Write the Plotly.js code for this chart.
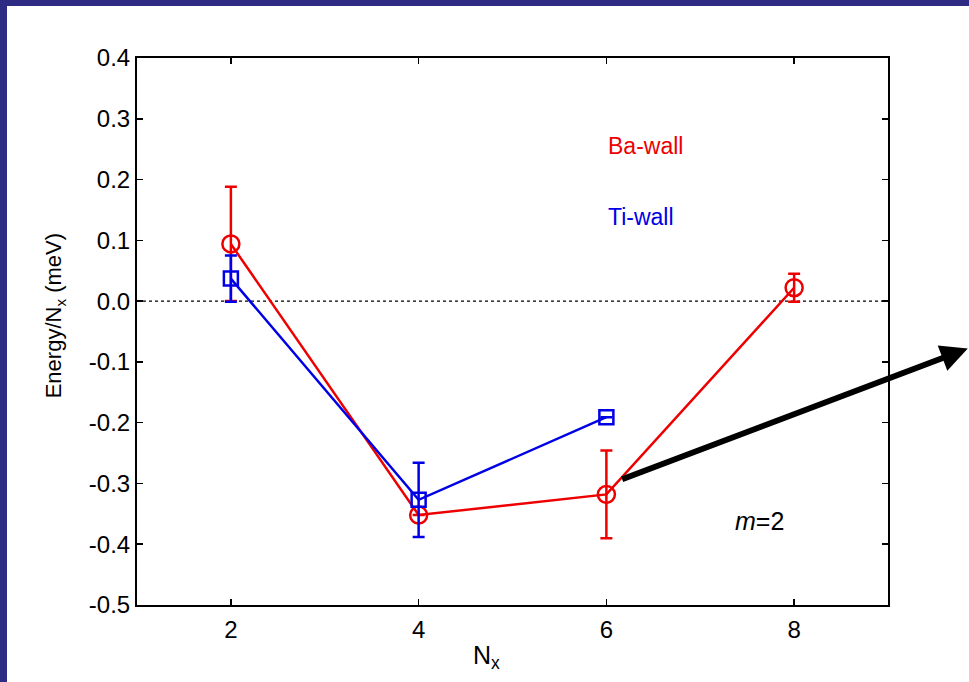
<!DOCTYPE html>
<html>
<head>
<meta charset="utf-8">
<script src="https://cdn.plot.ly/plotly-3.0.1.min.js"></script>
<style>
html,body{margin:0;padding:0;background:#2d2b84;width:969px;height:682px;overflow:hidden;}
#chart{position:absolute;left:7px;top:6px;width:962px;height:676px;background:#fff;}
</style>
</head>
<body>
<div id="chart"></div>
<script>
var nx = [2, 4, 6, 8];
var baWall = [0.094, -0.352, -0.318, 0.022];
var baErr = [0.094, null, 0.072, 0.023];
var tiX = [2, 4, 6];
var tiWall = [0.037, -0.327, -0.191];
var tiErr = [0.038, 0.061, null];
var xTicks = [2, 4, 6, 8];
var yTicks = [-0.5, -0.4, -0.3, -0.2, -0.1, 0.0, 0.1, 0.2, 0.3, 0.4];
var yTickText = ['-0.5', '-0.4', '-0.3', '-0.2', '-0.1', '0.0', '0.1', '0.2', '0.3', '0.4'];
var xTitle = 'N<sub>x</sub>';
var yTitle = 'Energy/N<sub>x</sub> (meV)';
var arrowFrom = [6.12, -0.296];
var arrowTo = [9.85, -0.078];

var red = '#ee0000';
var blue = '#0000e6';
var font = 'Liberation Sans, Arial, sans-serif';

var traces = [
  {
    x: nx, y: baWall, type: 'scatter', mode: 'lines+markers', name: 'Ba-wall',
    line: {color: red, width: 2.5},
    marker: {symbol: 'circle-open', size: 17, color: red, line: {width: 2.5, color: red}},
    error_y: {type: 'data', array: baErr, visible: true, color: red, thickness: 2.5, width: 6},
    cliponaxis: false
  },
  {
    x: tiX, y: tiWall, type: 'scatter', mode: 'lines+markers', name: 'Ti-wall',
    line: {color: blue, width: 2.5},
    marker: {symbol: 'square-open', size: 14, color: blue, line: {width: 2.5, color: blue}},
    error_y: {type: 'data', array: tiErr, visible: true, color: blue, thickness: 2.5, width: 6},
    cliponaxis: false
  }
];

var layout = {
  width: 962, height: 676,
  margin: {l: 130, r: 81, t: 52, b: 77},
  paper_bgcolor: '#ffffff',
  plot_bgcolor: '#ffffff',
  showlegend: false,
  font: {family: font, size: 22, color: '#000'},
  xaxis: {
    range: [1, 9], tickmode: 'array', tickvals: xTicks, ticktext: xTicks.map(String),
    ticks: 'inside', ticklen: 6, tickwidth: 1.5, tickcolor: '#000',
    showline: true, linecolor: '#000', linewidth: 2, mirror: 'ticks',
    showgrid: false, zeroline: false, ticklabelstandoff: 2,
    tickfont: {family: font, size: 24, color: '#000'}
  },
  yaxis: {
    range: [-0.5, 0.4], tickmode: 'array', tickvals: yTicks, ticktext: yTickText,
    ticks: 'inside', ticklen: 6, tickwidth: 1.5, tickcolor: '#000',
    showline: true, linecolor: '#000', linewidth: 2, mirror: 'ticks',
    showgrid: false, zeroline: false,
    tickfont: {family: font, size: 24, color: '#000'}
  },
  shapes: [
    {type: 'line', xref: 'paper', yref: 'y', x0: 0, x1: 1, y0: 0, y1: 0,
     line: {color: '#000', width: 1.2, dash: 'dot'}, layer: 'below'}
  ],
  annotations: [
    {x: 0.465, y: -0.063, xref: 'paper', yref: 'paper', text: xTitle, showarrow: false,
     xanchor: 'center', yanchor: 'top', font: {family: font, size: 25, color: '#000'}},
    {x: -0.109, y: 0.528, xref: 'paper', yref: 'paper', text: yTitle, showarrow: false,
     textangle: -90, xanchor: 'center', yanchor: 'middle', font: {family: font, size: 22, color: '#000'}},
    {x: 6.0, y: 0.255, xref: 'x', yref: 'y', text: 'Ba-wall', showarrow: false,
     xanchor: 'left', font: {family: font, size: 23, color: red}},
    {x: 6.0, y: 0.138, xref: 'x', yref: 'y', text: 'Ti-wall', showarrow: false,
     xanchor: 'left', font: {family: font, size: 23, color: blue}},
    {x: 7.35, y: -0.362, xref: 'x', yref: 'y', text: '<i>m</i>=2', showarrow: false,
     xanchor: 'left', font: {family: font, size: 25, color: '#000'}},
    {x: arrowTo[0], y: arrowTo[1], ax: arrowFrom[0], ay: arrowFrom[1],
     xref: 'x', yref: 'y', axref: 'x', ayref: 'y', text: ' ', showarrow: true,
     arrowhead: 2, arrowsize: 0.9, arrowwidth: 6, arrowcolor: '#000'}
  ]
};

Plotly.newPlot('chart', traces, layout, {displayModeBar: false, staticPlot: true});
</script>
</body>
</html>
